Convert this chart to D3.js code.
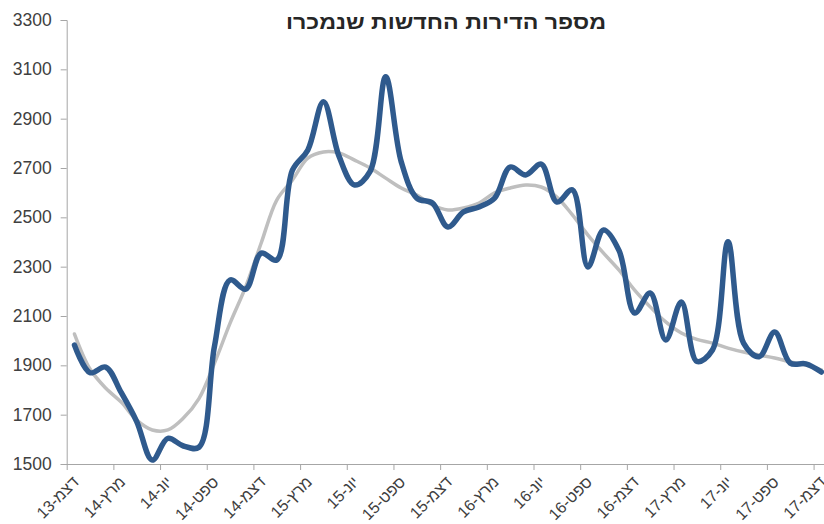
<!DOCTYPE html>
<meta charset='utf-8'>

<style>
  body { margin: 0; background: #fff; }
  svg { font-family: "Liberation Sans", Arial, sans-serif; }
  .axis path, .axis line { stroke: #a6a6a6; }
  .ylab { fill: #404040; font-size: 17.5px; }
  .xlab { fill: #404040; font-size: 16px; }
  .title { fill: #262626; font-size: 20px; font-weight: bold; }
</style>

<svg width="824" height="524"></svg>

<script src="https://cdn.jsdelivr.net/npm/d3@7"></script>

<script>

// monthly values, Dec 2013 .. Dec 2017
var sold = [1982, 1870, 1893, 1790, 1672, 1516, 1604, 1573, 1568, 1978,
            2246, 2209, 2355, 2327, 2690, 2773, 2969, 2748, 2631, 2686,
            3070, 2725, 2578, 2558, 2461, 2522, 2542, 2578, 2704, 2672,
            2716, 2562, 2611, 2299, 2449, 2365, 2112, 2193, 2003, 2157,
            1916, 1962, 2401, 1990, 1935, 2035, 1909, 1906, 1873];

var trend = [2027, 1885, 1808, 1751, 1678, 1638, 1638, 1686, 1765, 1909,
             2071, 2218, 2396, 2570, 2651, 2740, 2765, 2761, 2732, 2700,
             2659, 2619, 2590, 2550, 2530, 2538, 2558, 2599, 2619, 2631,
             2623, 2582, 2510, 2428, 2355, 2286, 2205, 2137, 2076, 2031,
             2005, 1990, 1970, 1954, 1942, 1930, 1914, 1901, 1881];

var xLabels = ["דצמ-13", "מרץ-14", "יונ-14", "ספט-14", "דצמ-14", "מרץ-15", "יונ-15",
               "ספט-15", "דצמ-15", "מרץ-16", "יונ-16", "ספט-16", "דצמ-16", "מרץ-17",
               "יונ-17", "ספט-17", "דצמ-17"];

var yTicks = [1500, 1700, 1900, 2100, 2300, 2500, 2700, 2900, 3100, 3300];

var chartTitle = "מספר הדירות החדשות שנמכרו";

var svg = d3.select("svg");

var plotLeft = 66.7, plotTop = 20, plotBottom = 464;
var monthW = 15.56;

var x = d3.scaleLinear()
  .domain([0, sold.length])
  .range([plotLeft, plotLeft + sold.length * monthW]);

var y = d3.scaleLinear()
  .domain([1500, 3300])
  .range([plotBottom, plotTop]);

// y axis
var yAxis = svg.append("g")
  .attr("class", "axis")
  .attr("transform", "translate(" + plotLeft + ",0)")
  .call(d3.axisLeft(y).tickValues(yTicks).tickFormat(d3.format("d")).tickSize(6).tickPadding(9));
yAxis.selectAll("text").attr("class", "ylab");
yAxis.attr("font-family", null).attr("font-size", null);

// x axis, a tick every 3 months
var xTicks = d3.range(0, sold.length, 3);
var xAxis = svg.append("g")
  .attr("class", "axis")
  .attr("transform", "translate(0," + plotBottom + ")")
  .call(d3.axisBottom(x).tickValues(xTicks).tickSize(6).tickFormat(""));
xAxis.select(".domain").attr("d", "M" + plotLeft + ",0.5H824");

svg.append("g")
  .selectAll("text")
  .data(xTicks)
  .enter()
  .append("text")
  .attr("class", "xlab")
  .attr("direction", "rtl")
  .attr("text-anchor", "start")
  .attr("transform", function(d) { return "translate(" + (x(d) + 13) + "," + (plotBottom + 19) + ") rotate(-45)"; })
  .text(function(d, i) { return xLabels[i]; });

var line = function(vals) {
  return d3.line()
    .x(function(d, i) { return x(i + 0.5); })
    .y(function(d) { return y(d); })
    .curve(d3.curveCatmullRom.alpha(0.5))(vals);
};

svg.append("path")
  .attr("d", line(trend))
  .attr("fill", "none")
  .attr("stroke", "#bfbfbf")
  .attr("stroke-width", 3.5)
  .attr("stroke-linecap", "round");

svg.append("path")
  .attr("d", line(sold))
  .attr("fill", "none")
  .attr("stroke", "#2f5a8d")
  .attr("stroke-width", 5.5)
  .attr("stroke-linecap", "round")
  .attr("stroke-linejoin", "round");

svg.append("text")
  .attr("class", "title")
  .attr("x", 446)
  .attr("y", 29)
  .attr("text-anchor", "middle")
  .attr("textLength", 320)
  .attr("lengthAdjust", "spacingAndGlyphs")
  .text(chartTitle);

</script>
